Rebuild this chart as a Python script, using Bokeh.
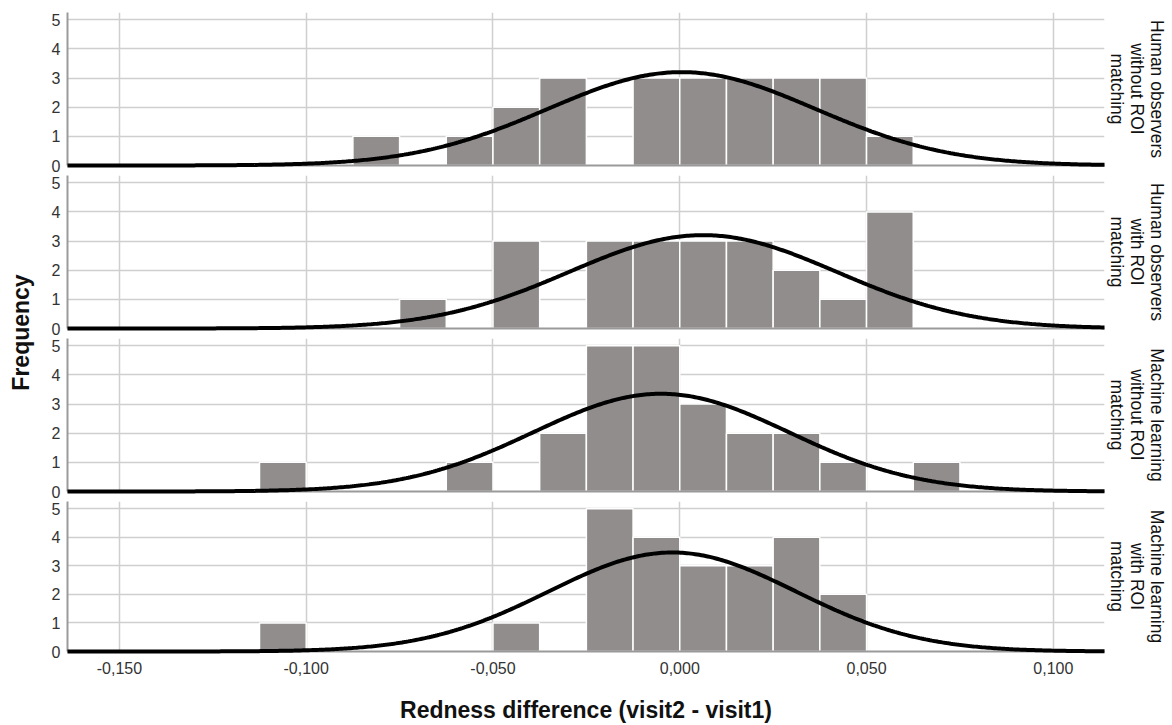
import numpy as np
from bokeh.plotting import figure
from bokeh.models import ColumnDataSource, FixedTicker, LinearAxis, CustomJSTickFormatter, Range1d
from bokeh.layouts import row, column
from bokeh.embed import file_html
from bokeh.resources import INLINE
from bokeh.core.properties import value

# ---------------- data ----------------
bin_left = [-0.1125, -0.1, -0.0875, -0.075, -0.0625, -0.05, -0.0375, -0.025,
            -0.0125, 0.0, 0.0125, 0.025, 0.0375, 0.05, 0.0625]
bin_width = 0.0125

counts_human_no_roi = [0, 0, 1, 0, 1, 2, 3, 0, 3, 3, 3, 3, 3, 1, 0]
counts_human_roi    = [0, 0, 0, 1, 0, 3, 0, 3, 3, 3, 3, 2, 1, 4, 0]
counts_ml_no_roi    = [1, 0, 0, 0, 1, 0, 2, 5, 5, 3, 2, 2, 1, 0, 1]
counts_ml_roi       = [1, 0, 0, 0, 0, 1, 0, 5, 4, 3, 3, 4, 2, 0, 0]

panel_counts = [counts_human_no_roi, counts_human_roi, counts_ml_no_roi, counts_ml_roi]
panel_labels = [["Human observers", "without ROI", "matching"],
                ["Human observers", "with ROI", "matching"],
                ["Machine learning", "without ROI", "matching"],
                ["Machine learning", "with ROI", "matching"]]

# fitted normal curve parameters (mean, sd)
fit_mean = [0.0005, 0.0062, -0.005, -0.002]
fit_sd   = [0.0358, 0.0358, 0.0342, 0.0331]

x_ticks = [-0.15, -0.1, -0.05, 0.0, 0.05, 0.1]
x_tick_labels = ["-0,150", "-0,100", "-0,050", "0,000", "0,050", "0,100"]
y_ticks = [0, 1, 2, 3, 4, 5]

x_title = "Redness difference (visit2 - visit1)"
y_title = "Frequency"

# ---------------- style ----------------
FONT = "Liberation Sans"
BAR = "#918d8c"
GRID = "#cfcfcf"
AXIS = "#9a9a9a"
TICKC = "#333333"
X_START, X_END = -0.1639, 0.1137
Y_END = 5.25
LF_W = 38
FRAME_W, FRAME_H = 1037, 153
LEFT_B, RIGHT_B = 29, 68
PANEL_W = LEFT_B + FRAME_W + RIGHT_B
TOTAL_H = 725
TOP_B = 12
GAP = 10

x_range = Range1d(X_START, X_END)
fmt = CustomJSTickFormatter(args=dict(vals=x_ticks, labs=x_tick_labels), code="""
let best = 0;
for (let i = 0; i < vals.length; i++) {
  if (Math.abs(vals[i] - tick) < Math.abs(vals[best] - tick)) best = i;
}
return labs[best];
""")

panels = []
heights = []
for i, counts in enumerate(panel_counts):
    top = TOP_B if i == 0 else 0
    last = (i == len(panel_counts) - 1)
    if last:
        h = TOTAL_H - sum(heights)
        bottom = h - top - FRAME_H
    else:
        bottom = GAP
        h = top + FRAME_H + bottom
    heights.append(h)
    p = figure(width=PANEL_W, height=h, x_range=x_range, y_range=Range1d(0, Y_END),
               output_backend="svg", toolbar_location=None,
               min_border_left=LEFT_B, min_border_right=RIGHT_B,
               min_border_top=top, min_border_bottom=bottom)
    p.outline_line_color = None
    p.background_fill_color = "white"

    # grid
    p.xgrid.ticker = FixedTicker(ticks=x_ticks)
    p.ygrid.ticker = FixedTicker(ticks=y_ticks[1:])
    p.grid.grid_line_color = GRID
    p.grid.grid_line_width = 1.5

    # y axis
    yax = p.yaxis[0]
    yax.ticker = FixedTicker(ticks=y_ticks)
    yax.major_tick_out = 0
    yax.major_tick_in = 0
    yax.minor_tick_line_color = None
    yax.major_tick_line_color = None
    yax.major_label_standoff = 7
    yax.major_label_text_font = FONT
    yax.major_label_text_font_size = "16px"
    yax.major_label_text_color = TICKC
    yax.axis_line_color = AXIS
    yax.axis_line_width = 2

    # x axis
    xax = p.xaxis[0]
    xax.major_tick_out = 0
    xax.major_tick_in = 0
    xax.major_tick_line_color = None
    xax.minor_tick_line_color = None
    xax.axis_line_color = AXIS
    xax.axis_line_width = 2
    if last:
        xax.ticker = FixedTicker(ticks=x_ticks)
        xax.formatter = fmt
        xax.major_label_standoff = 10
        xax.major_label_text_font = FONT
        xax.major_label_text_font_size = "16px"
        xax.major_label_text_color = TICKC
        xax.axis_label = x_title
        xax.axis_label_standoff = 20
        xax.axis_label_text_font = FONT
        xax.axis_label_text_font_size = "23px"
        xax.axis_label_text_font_style = "bold"
        xax.axis_label_text_color = "#111111"
    else:
        xax.ticker = FixedTicker(ticks=[])
        xax.major_label_standoff = 0

    # right-hand panel label: one label line per stacked side axis (innermost = last line)
    for k, line in enumerate(reversed(panel_labels[i])):
        rax = LinearAxis(ticker=FixedTicker(ticks=[]), axis_label=line)
        rax.axis_line_color = None
        rax.major_tick_line_color = None
        rax.minor_tick_line_color = None
        rax.major_tick_out = 0
        rax.major_tick_in = 0
        rax.major_label_standoff = 0
        rax.axis_label_standoff = 2 if k == 0 else -3
        rax.axis_label_text_font = FONT
        rax.axis_label_text_font_size = "17.5px"
        rax.axis_label_text_font_style = "normal"
        rax.axis_label_text_color = "#111111"
        p.add_layout(rax, "right")

    # histogram bars
    lefts = [b for b, c in zip(bin_left, counts) if c > 0]
    src = ColumnDataSource(dict(left=lefts,
                                right=[b + bin_width for b in lefts],
                                top=[c for c in counts if c > 0]))
    p.quad(left="left", right="right", bottom=0, top="top", source=src,
           fill_color=BAR, line_color="white", line_width=1.5)

    # fitted normal curve
    n = sum(counts)
    xs = np.linspace(X_START, X_END, 500)
    ys = n * bin_width * np.exp(-0.5 * ((xs - fit_mean[i]) / fit_sd[i]) ** 2) / (fit_sd[i] * np.sqrt(2 * np.pi))
    p.line(xs, ys, line_color="black", line_width=4, level="overlay")

    panels.append(p)

# left column carrying the shared y title
lf = figure(width=LF_W, height=TOTAL_H, x_range=Range1d(0, LF_W), y_range=Range1d(0, TOTAL_H),
            output_backend="svg", toolbar_location=None, min_border=0,
            min_border_left=0, min_border_right=0, min_border_top=0, min_border_bottom=0,
            x_axis_location=None, y_axis_location=None)
lf.outline_line_color = None
lf.xgrid.visible = False
lf.ygrid.visible = False
lf.text(x=[20], y=[TOTAL_H - 332], text=[y_title], angle=np.pi / 2,
        text_align="center", text_baseline="middle",
        text_font=value(FONT), text_font_size="23px", text_font_style="bold",
        text_color="#111111")

layout = row(lf, column(*panels))

open("out.html", "w").write(file_html(layout, INLINE))
